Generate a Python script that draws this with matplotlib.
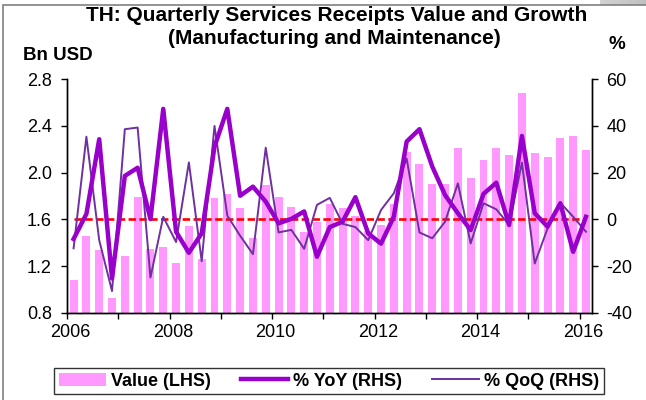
import numpy as np
import matplotlib.pyplot as plt
from matplotlib.patches import Rectangle

plt.rcParams['font.family'] = ['Liberation Sans', 'DejaVu Sans']
plt.rcParams['axes.unicode_minus'] = False

# ==========================
# Datos
# ==========================
quarters = [f"{y}Q{q}" for y in range(2006, 2017) for q in range(1, 5)][:41]

value_bn = [1.08, 1.46, 1.34, 0.93, 1.29, 1.79, 1.35, 1.36, 1.23, 1.54,
            1.26, 1.78, 1.82, 1.70, 1.44, 1.89, 1.79, 1.71, 1.49, 1.58,
            1.73, 1.70, 1.63, 1.50, 1.55, 1.73, 2.18, 2.07, 1.90, 1.90,
            2.21, 1.95, 2.11, 2.21, 2.15, 2.68, 2.17, 2.13, 2.30, 2.31,
            2.19]

yoy_pct = [-8.4, 2.3, 34.3, -25.3, 18.6, 22.1, 0.1, 47.3, -5.3, -14.3,
           -6.0, 31.1, 47.3, 10.1, 14.0, 7.6, -1.7, 0.2, 3.4, -16.0,
           -3.3, -1.0, 9.5, -6.0, -10.4, 1.2, 33.3, 38.6, 22.6, 10.4,
           2.6, -4.6, 10.9, 15.7, -2.4, 35.7, 2.6, -3.1, 6.9, -13.9,
           1.1]

qoq_pct = [-12.4, 35.4, -8.9, -30.7, 38.6, 39.3, -24.9, 1.1, -9.7, 24.4,
           -17.9, 40.0, 1.6, -7.0, -14.9, 30.7, -5.6, -4.5, -12.6, 6.2,
           9.2, -1.9, -3.3, -8.9, 4.0, 11.2, 26.0, -5.6, -8.1, -1.0,
           15.4, -10.3, 6.9, 4.3, -2.4, 24.3, -18.9, -3.9, 7.1, 1.1,
           -5.3]

# ==========================
# Figura
# ==========================
fig = plt.figure(figsize=(6.46, 4.0), dpi=100)
ax = fig.add_axes([0.104, 0.218, 0.813, 0.584])
ax2 = ax.twinx()

x = np.arange(len(quarters))

ax.bar(x, value_bn, width=0.62, color="#FF99FF", label="Value (LHS)", zorder=1)
ax.set_ylim(0.8, 2.8)
ax.set_yticks(np.arange(0.8, 2.81, 0.4))
ax.set_yticklabels([f"{v:.1f}" for v in np.arange(0.8, 2.81, 0.4)])
ax.set_xlim(-0.5, len(quarters) - 0.5)

# línea de cero (RHS), de la primera a la última categoría
ax2.plot([x[0], x[-1]], [0, 0], color="red", linestyle=(0, (2.8, 1.3)),
         linewidth=1.9, zorder=2)
ax2.plot(x, yoy_pct, color="#9900CC", linewidth=3.2, label="% YoY (RHS)", zorder=4)
ax2.plot(x, qoq_pct, color="#7030A0", linewidth=1.4, label="% QoQ (RHS)", zorder=3)
ax2.set_ylim(-40, 60)
ax2.set_yticks(np.arange(-40, 61, 20))

# Ejes: marcas cada año, etiquetas cada dos años
q1 = [q for q in quarters if q.endswith("Q1")]
year_edges = [i - 0.5 for i, q in enumerate(quarters) if q.endswith("Q1")]
ax.set_xticks(year_edges)
ax.set_xticklabels([])
ax.set_xticks([e + 0.25 for e in year_edges], minor=True)
ax.set_xticklabels([q[:4] if int(q[:4]) % 2 == 0 else "" for q in q1], minor=True)

for a in (ax, ax2):
    a.spines["top"].set_visible(False)
    for s in a.spines.values():
        s.set_linewidth(1.0)
    a.tick_params(labelsize=13, width=1.0, length=4, direction="out")
ax2.tick_params(axis="y", pad=6)
ax.tick_params(axis="y", pad=7)
ax.tick_params(axis="x", which="minor", length=0, pad=8, labelsize=13)
ax.tick_params(axis="x", which="major", length=4, direction="out")

# Títulos
fig.text(0.521, 0.962, "TH: Quarterly Services Receipts Value and Growth",
         ha="center", va="center", fontsize=15, fontweight="bold")
fig.text(0.517, 0.903, "(Manufacturing and Maintenance)",
         ha="center", va="center", fontsize=15, fontweight="bold")
fig.text(0.09, 0.862, "Bn USD", ha="center", va="center", fontsize=13.5, fontweight="bold")
fig.text(0.955, 0.888, "%", ha="center", va="center", fontsize=13.5, fontweight="bold")

# Leyenda
h1, l1 = ax.get_legend_handles_labels()
h2, l2 = ax2.get_legend_handles_labels()
leg = fig.legend(h1 + h2, l1 + l2, loc="center", ncol=3, mode="expand",
                 bbox_to_anchor=(0.0697, 0.011, 0.879, 0.072),
                 frameon=True, fancybox=False, edgecolor="black",
                 prop={"weight": "bold", "size": 13},
                 handlelength=2.6, handletextpad=0.3, borderpad=0.25)
leg.get_frame().set_linewidth(1.0)

# Marco exterior
fig.patches.append(Rectangle((3 / 646, -0.01), 1.0, 1 - 5 / 400 + 0.01,
                             transform=fig.transFigure, fill=False,
                             edgecolor="#808080", linewidth=1.2))

# sombra gris-azulada en la esquina superior derecha
corner = fig.add_axes([600 / 646, 1 - 5 / 400, 46 / 646, 5 / 400])
corner.imshow(np.linspace(0, 1, 50)[None, :], cmap="Greys", vmin=-4, vmax=6,
              aspect="auto", alpha=0.6)
corner.axis("off")

fig.savefig("out.png", dpi=100)
